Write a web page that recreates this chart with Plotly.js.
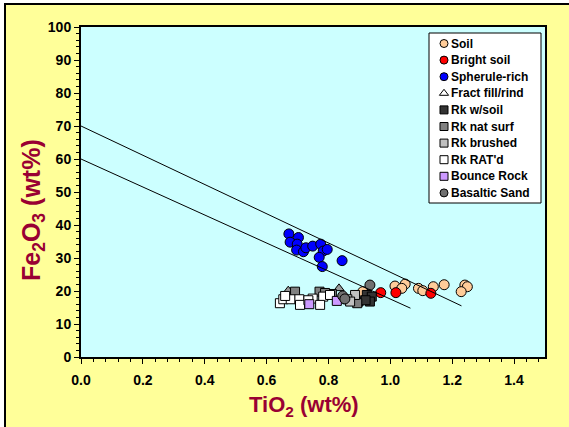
<!DOCTYPE html>
<html>
<head>
<meta charset="utf-8">
<script src="https://cdn.plot.ly/plotly-3.0.1.min.js"></script>
<style>
  html, body { margin:0; padding:0; background:#ffffff; width:569px; height:427px; overflow:hidden; }
  #frame { position:absolute; left:4px; top:3px; width:580px; height:440px; background:#FFFF99; border:2px solid #000; }
  #chart { position:absolute; left:0; top:0; width:569px; height:427px; }
</style>
</head>
<body>
<div id="frame"></div>
<div id="chart"></div>
<script>
// ---- data (TiO2 wt%, Fe2O3 wt%) ----
const soilX = [0.911, 1.015, 1.048, 1.037, 1.091, 1.105, 1.139, 1.174, 1.241, 1.249, 1.229];
const soilY = [19.8, 21.5, 22.1, 20.8, 20.8, 20.1, 21.3, 21.9, 21.8, 21.3, 19.8];

const brightX = [0.969, 1.018, 1.131];
const brightY = [19.5, 19.5, 19.3];

const spheruleX = [0.672, 0.703, 0.676, 0.699, 0.697, 0.719, 0.727, 0.749, 0.775, 0.783, 0.796, 0.770, 0.780, 0.844];
const spheruleY = [37.3, 36.2, 34.8, 34.2, 32.4, 31.9, 33.1, 33.6, 34.2, 32.1, 32.6, 30.2, 27.4, 29.2];

const fractX = [0.670, 0.834];
const fractY = [20.1, 20.8];

const rkSoilX = [0.924, 0.940, 0.934, 0.897, 0.920];
const rkSoilY = [18.8, 18.3, 16.8, 16.8, 17.2];

const rkNatX = [0.692, 0.771, 0.811, 0.789, 0.893];
const rkNatY = [19.8, 19.8, 19.1, 19.4, 16.3];

const rkBrushX = [0.886, 0.861, 0.870];
const rkBrushY = [18.8, 17.5, 16.8];

const rkRatX = [0.643, 0.654, 0.678, 0.706, 0.749, 0.783, 0.773, 0.708, 0.805, 0.735, 0.660];
const rkRatY = [16.3, 17.5, 17.5, 17.5, 17.7, 18.3, 15.8, 15.8, 18.8, 17.2, 18.5];

const bounceX = [0.738, 0.827];
const bounceY = [16.0, 17.0];

const basaltX = [0.846, 0.853, 0.934];
const basaltY = [18.5, 17.6, 21.8];

// reference lines
const upperLineX = [0.0, 1.23];
const upperLineY = [70, 15.5];
const lowerLineX = [0.0, 1.065];
const lowerLineY = [60, 14.8];

const xTicks = [0, 0.2, 0.4, 0.6, 0.8, 1.0, 1.2, 1.4];
const yTicks = [0, 10, 20, 30, 40, 50, 60, 70, 80, 90, 100];

const seriesNames = ['Soil', 'Bright soil', 'Spherule-rich', 'Fract fill/rind', 'Rk w/soil',
                     'Rk nat surf', 'Rk brushed', "Rk RAT'd", 'Bounce Rock', 'Basaltic Sand'];
const xTitleText = 'TiO<sub>2</sub> (wt%)';
const yTitleText = 'Fe<sub>2</sub>O<sub>3</sub> (wt%)';

// ---- styling ----
const series = [
  { x: soilX,     y: soilY,     symbol: 'circle',      color: '#FFCC99', size: 10 },
  { x: brightX,   y: brightY,   symbol: 'circle',      color: '#FF0000', size: 10 },
  { x: spheruleX, y: spheruleY, symbol: 'circle',      color: '#0000FF', size: 10 },
  { x: fractX,    y: fractY,    symbol: 'triangle-up', color: '#999999', size: 9 },
  { x: rkSoilX,   y: rkSoilY,   symbol: 'square',      color: '#333333', size: 9 },
  { x: rkNatX,    y: rkNatY,    symbol: 'square',      color: '#808080', size: 9 },
  { x: rkBrushX,  y: rkBrushY,  symbol: 'square',      color: '#C0C0C0', size: 9 },
  { x: rkRatX,    y: rkRatY,    symbol: 'square',      color: '#FFFFFF', size: 9 },
  { x: bounceX,   y: bounceY,   symbol: 'square',      color: '#CC99FF', size: 9 },
  { x: basaltX,   y: basaltY,   symbol: 'circle',      color: '#707070', size: 10 }
];

const legendSymbolColors = ['#FFCC99', '#FF0000', '#0000FF', '#FFFFFF', '#333333', '#808080', '#C0C0C0', '#FFFFFF', '#CC99FF', '#707070'];

const traces = series.map((s, i) => ({
  type: 'scatter', mode: 'markers', name: seriesNames[i], x: s.x, y: s.y, showlegend: false,
  marker: { symbol: s.symbol, color: s.color, size: s.size, line: { color: '#000', width: 1 } }
}));

function ln(x, y) {
  return { type: 'scatter', mode: 'lines', x: x, y: y, showlegend: false, hoverinfo: 'skip',
           line: { color: '#000', width: 1 } };
}
traces.push(ln(upperLineX, upperLineY));
traces.push(ln(lowerLineX, lowerLineY));

// ---- custom legend on a pixel-space overlay axis ----
const W = 569, H = 427;
const PL = 81, PR = 545, PT = 27, PB = 357;
const legLeft = 429, legRight = 541, legTop = 33, legBottom = 203;
const legFirstY = 43.5, legStep = 16.6, legSymX = 444, legTextX = 449;

// pixel -> paper helpers (for texts placed outside the plotting area)
const px2paperX = px => (px - PL) / (PR - PL);
const px2paperY = py => (PB - py) / (PB - PT);

traces.push({
  type: 'scatter', mode: 'markers', xaxis: 'x2', yaxis: 'y2', showlegend: false, hoverinfo: 'skip',
  x: seriesNames.map(() => legSymX),
  y: seriesNames.map((_, i) => legFirstY + legStep * i),
  marker: {
    symbol: series.map(s => s.symbol),
    color: legendSymbolColors,
    size: 8,
    line: { color: '#000', width: 1 }
  }
});

const legFont = { family: 'Liberation Sans, Arial, sans-serif', size: 12, color: '#000', weight: 'bold' };
const annotations = seriesNames.map((n, i) => ({
  xref: 'x2', yref: 'y2', x: legTextX, y: legFirstY + legStep * i,
  xanchor: 'left', yanchor: 'middle', showarrow: false, text: n, font: legFont
}));

const xTitleFont = { family: 'Liberation Sans, Arial, sans-serif', size: 22, color: '#990033', weight: 'bold' };
const yTitleFont = { family: 'Liberation Sans, Arial, sans-serif', size: 25, color: '#990033', weight: 'bold' };

// axis titles (placed as in the original figure)
annotations.push({
  xref: 'paper', yref: 'paper', x: px2paperX(303.5), y: px2paperY(406), xanchor: 'center', yanchor: 'middle',
  showarrow: false, text: xTitleText, font: xTitleFont
});
annotations.push({
  xref: 'paper', yref: 'paper', x: px2paperX(33), y: px2paperY(210), xanchor: 'center', yanchor: 'middle',
  textangle: -90, showarrow: false, text: yTitleText, font: yTitleFont
});

const tickFont = { family: 'Liberation Sans, Arial, sans-serif', size: 14, color: '#000', weight: 'bold' };

const layout = {
  width: W, height: H,
  paper_bgcolor: 'rgba(0,0,0,0)',
  plot_bgcolor: '#CCFFFF',
  margin: { l: PL, r: W - PR, t: PT, b: H - PB },
  showlegend: false,
  xaxis: {
    range: [0, 1.5], tickvals: xTicks, tickformat: '.1f',
    showgrid: false, zeroline: false,
    showline: true, mirror: true, linecolor: '#000', linewidth: 2,
    ticks: 'outside', ticklen: 5, tickwidth: 1, tickcolor: '#000',
    minor: { dtick: 0.04, tick0: 0, ticks: 'outside', ticklen: 3, tickcolor: '#000', showgrid: false },
    tickfont: tickFont, ticklabelstandoff: 4
  },
  yaxis: {
    range: [0, 100], tickvals: yTicks,
    showgrid: false, zeroline: false,
    showline: true, mirror: true, linecolor: '#000', linewidth: 2,
    ticks: 'outside', ticklen: 5, tickwidth: 1, tickcolor: '#000',
    minor: { dtick: 2, tick0: 0, ticks: 'outside', ticklen: 3, tickcolor: '#000', showgrid: false },
    tickfont: tickFont
  },
  xaxis2: { overlaying: 'x', range: [PL, PR], visible: false, fixedrange: true },
  yaxis2: { overlaying: 'y', range: [PB, PT], visible: false, fixedrange: true },
  shapes: [{
    type: 'rect', xref: 'x2', yref: 'y2', x0: legLeft, x1: legRight, y0: legTop, y1: legBottom,
    fillcolor: '#FFFFFF', line: { color: '#000', width: 1 }, layer: 'below'
  }],
  annotations: annotations
};

Plotly.newPlot('chart', traces, layout, { displayModeBar: false, staticPlot: true });
</script>
</body>
</html>
